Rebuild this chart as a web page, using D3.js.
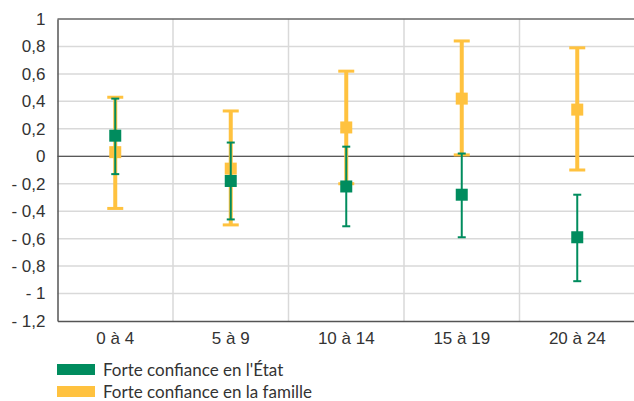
<!DOCTYPE html>
<html>
<head>
<meta charset="utf-8">
<script src="https://cdn.jsdelivr.net/npm/d3@7"></script>
<style>
  body { margin: 0; background: #fff; }
  svg { display: block; font-family: "Lato", "Noto Sans", sans-serif; }
</style>
</head>
<body>
<div id="chart"></div>
<script>
// age groups on the x axis
const categories = ["0 à 4", "5 à 9", "10 à 14", "15 à 19", "20 à 24"];

// Forte confiance en l'État : point estimate with its interval
const etatMean = [0.15, -0.18, -0.22, -0.28, -0.59];
const etatLow  = [-0.13, -0.46, -0.51, -0.59, -0.91];
const etatHigh = [0.42, 0.10, 0.07, 0.02, -0.28];

// Forte confiance en la famille
const familleMean = [0.03, -0.09, 0.21, 0.42, 0.34];
const familleLow  = [-0.38, -0.50, -0.20, 0.01, -0.10];
const familleHigh = [0.43, 0.33, 0.62, 0.84, 0.79];

const yTicks = [1, 0.8, 0.6, 0.4, 0.2, 0, -0.2, -0.4, -0.6, -0.8, -1, -1.2];

const width = 634, height = 401;
const margin = { top: 19, right: -1, bottom: 80, left: 57.5 };
const innerW = width - margin.left - margin.right;
const innerH = height - margin.top - margin.bottom;

const green = "#008c5e";
const yellow = "#ffc23f";
const textColor = "#333333";
const fontSize = "17px";

const svg = d3.select("#chart").append("svg")
    .attr("width", width)
    .attr("height", height);

const g = svg.append("g")
    .attr("transform", `translate(${margin.left},${margin.top})`);

const x = d3.scaleBand()
    .domain(categories)
    .range([0, innerW]);

const y = d3.scaleLinear()
    .domain([-1.2, 1])
    .range([innerH, 0]);

const fmt = v => {
    if (v === 0) return "0";
    const s = d3.format(",.1f")(Math.abs(v)).replace(".", ",").replace(/,0$/, "");
    return v < 0 ? "- " + s : s;
};

// horizontal grid
g.append("g")
    .selectAll("line")
    .data(yTicks.filter(d => d !== 0 && d !== 1 && d !== -1.2))
    .join("line")
    .attr("x1", 0).attr("x2", innerW)
    .attr("y1", d => y(d)).attr("y2", d => y(d))
    .attr("stroke", "#d9d9d9")
    .attr("stroke-width", 1.5);

// vertical grid between groups
g.append("g")
    .selectAll("line")
    .data(categories.slice(1))
    .join("line")
    .attr("x1", d => x(d)).attr("x2", d => x(d))
    .attr("y1", 0).attr("y2", innerH)
    .attr("stroke", "#d9d9d9")
    .attr("stroke-width", 1.5);

// zero line
g.append("line")
    .attr("x1", 0).attr("x2", innerW)
    .attr("y1", y(0)).attr("y2", y(0))
    .attr("stroke", "#222")
    .attr("stroke-width", 1.2);

// top border of the frame
g.append("line")
    .attr("x1", 0).attr("x2", innerW)
    .attr("y1", 0).attr("y2", 0)
    .attr("stroke", "#666").attr("stroke-width", 1.5);

// y axis
const yAxis = g.append("g")
    .call(d3.axisLeft(y).tickValues(yTicks).tickFormat(fmt).tickSize(0).tickPadding(12));
yAxis.select(".domain").attr("stroke", "#555").attr("stroke-width", 1.5);
yAxis.selectAll("text")
    .attr("fill", textColor)
    .style("font-size", fontSize);

// x axis
const xAxis = g.append("g")
    .attr("transform", `translate(0,${innerH})`)
    .call(d3.axisBottom(x).tickSize(0).tickPadding(11));
xAxis.select(".domain").attr("stroke", "#555").attr("stroke-width", 1.5);
xAxis.selectAll("text")
    .attr("fill", textColor)
    .style("font-size", fontSize);

const cx = d => x(d) + x.bandwidth() / 2;

function drawSeries(color, mean, low, high, lineW, capW, capH, size) {
    const s = g.append("g");
    const rows = categories.map((c, i) => ({ c, m: mean[i], lo: low[i], hi: high[i] }));

    s.selectAll(".bar")
        .data(rows)
        .join("line")
        .attr("x1", d => cx(d.c)).attr("x2", d => cx(d.c))
        .attr("y1", d => y(d.hi)).attr("y2", d => y(d.lo))
        .attr("stroke", color)
        .attr("stroke-width", lineW);

    s.selectAll(".capTop")
        .data(rows)
        .join("rect")
        .attr("x", d => cx(d.c) - capW / 2)
        .attr("y", d => y(d.hi) - capH / 2)
        .attr("width", capW).attr("height", capH)
        .attr("fill", color);

    s.selectAll(".capBottom")
        .data(rows)
        .join("rect")
        .attr("x", d => cx(d.c) - capW / 2)
        .attr("y", d => y(d.lo) - capH / 2)
        .attr("width", capW).attr("height", capH)
        .attr("fill", color);

    s.selectAll(".pt")
        .data(rows)
        .join("rect")
        .attr("x", d => cx(d.c) - size / 2)
        .attr("y", d => y(d.m) - size / 2)
        .attr("width", size).attr("height", size)
        .attr("fill", color);
}

drawSeries(yellow, familleMean, familleLow, familleHigh, 4, 16, 3, 12);
drawSeries(green, etatMean, etatLow, etatHigh, 2, 8, 2, 12);

// legend
const legendItems = [
    { label: "Forte confiance en l'État", color: green },
    { label: "Forte confiance en la famille", color: yellow }
];
const legend = svg.append("g")
    .attr("transform", `translate(57,364)`);
const li = legend.selectAll("g")
    .data(legendItems)
    .join("g")
    .attr("transform", (d, i) => `translate(0,${i * 22})`);
li.append("rect")
    .attr("width", 38).attr("height", 11)
    .attr("fill", d => d.color);
li.append("text")
    .attr("x", 46)
    .attr("y", 6)
    .attr("dy", "0.35em")
    .attr("fill", textColor)
    .style("font-size", fontSize)
    .text(d => d.label);
</script>
</body>
</html>
